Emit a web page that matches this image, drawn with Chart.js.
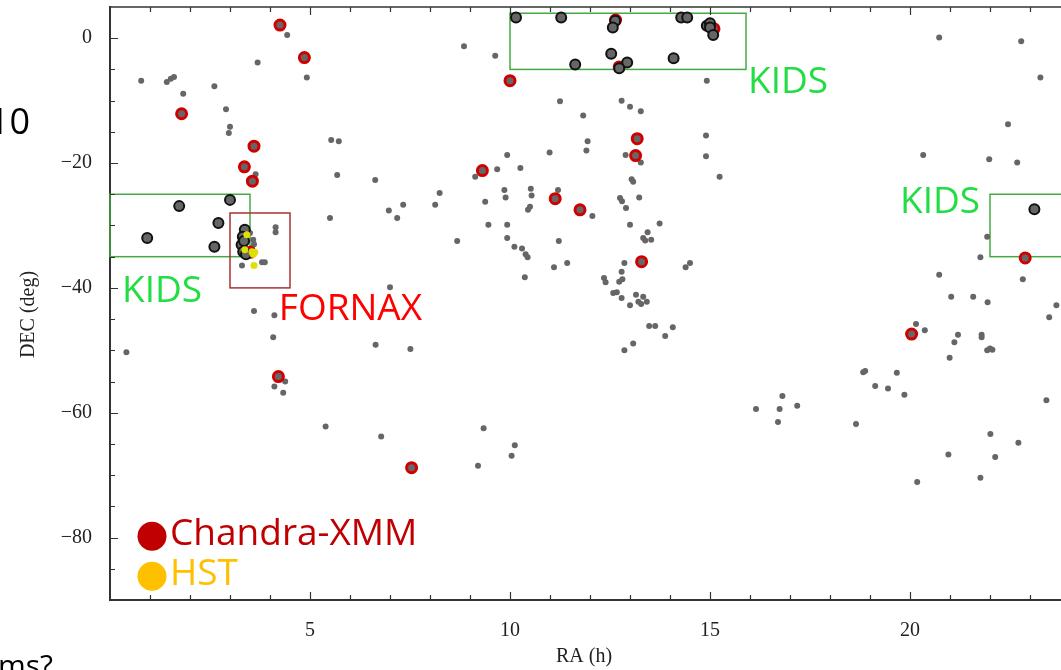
<!DOCTYPE html>
<html>
<head>
<meta charset="utf-8">
<script src="https://cdn.jsdelivr.net/npm/chart.js@4.4.1/dist/chart.umd.min.js"></script>
<style>
  html, body { margin:0; padding:0; background:#fff; overflow:hidden; }
  #wrap { position:relative; width:1061px; height:670px; overflow:hidden; }
  canvas { position:absolute; left:0; top:0; }
</style>
</head>
<body>
<div id="wrap"><canvas id="c" width="1090" height="670"></canvas></div>
<script>
// ---------- tick labels ----------
const RA_TICKS = [5, 10, 15, 20];
const DEC_TICKS = [0, -20, -40, -60, -80];

// ---------- data: [RA (h), DEC (deg)] ----------
const grayPts = [
  [0.78,-6.8],[1.42,-7.0],[1.52,-6.5],[1.6,-6.2],[1.83,-8.9],[2.61,-7.7],[2.9,-11.4],[3.0,-14.2],[2.97,-15.2],
  [3.69,-3.9],[4.43,0.5],[4.92,-6.3],[5.53,-16.3],[5.72,-16.5],[5.68,-21.9],[3.64,-21.8],[5.5,-28.8],
  [4.14,-30.3],[4.14,-31.1],[3.3,-36.4],[3.6,-43.7],[4.11,-44.4],
  [3.58,-32.3],[3.6,-33.0],[3.5,-31.2],[3.55,-33.6],[3.8,-35.9],[3.87,-35.9],
  [8.85,-1.3],[9.63,-2.8],[11.25,-10.1],[11.83,-12.4],[12.79,-10.0],[13.0,-11.0],[13.27,-11.7],[14.92,-6.8],
  [11.94,-16.5],[11.91,-18.0],[10.99,-18.3],[9.93,-18.7],[9.68,-21.0],[10.26,-20.8],[9.13,-22.2],
  [12.89,-18.7],[13.27,-19.9],[14.9,-15.6],[14.9,-18.9],[13.04,-22.6],[13.08,-23.0],[15.24,-22.2],
  [6.63,-22.7],[8.24,-24.8],[8.13,-26.7],[6.97,-27.6],[7.33,-26.7],[7.18,-28.8],
  [9.86,-24.3],[9.89,-25.5],[9.38,-26.2],[10.52,-24.1],[10.54,-25.2],[10.5,-27.0],[10.45,-27.5],[11.2,-24.3],
  [12.75,-25.6],[12.8,-26.1],[13.23,-25.5],[12.9,-27.2],[12.06,-28.5],[13.0,-29.9],[13.74,-29.7],
  [13.44,-31.1],[13.33,-32.0],[13.38,-32.4],[13.53,-32.3],
  [9.46,-29.9],[9.93,-29.9],[9.93,-32.0],[8.68,-32.5],[10.11,-33.4],[10.3,-33.7],[10.39,-34.6],[10.44,-35.1],
  [11.22,-32.5],[11.43,-36.0],[11.1,-36.7],[10.37,-38.3],[12.86,-36.0],[12.79,-37.4],[12.73,-39.0],[12.81,-38.6],
  [12.35,-38.4],[12.39,-39.1],[14.39,-36.7],[14.5,-36.0],[7.0,-39.9],
  [12.58,-40.8],[12.67,-40.7],[12.79,-41.6],[13.0,-42.8],[13.15,-41.1],[13.21,-42.2],[13.28,-42.6],
  [13.33,-41.4],[13.42,-42.2],[13.48,-46.1],[13.63,-46.1],[14.07,-46.3],[13.88,-47.7],[13.08,-48.9],[12.86,-50.0],
  [9.34,-62.5],[10.12,-65.2],[10.04,-66.9],[9.2,-68.5],
  [16.15,-59.4],[16.81,-57.3],[16.74,-59.4],[17.18,-58.9],[16.7,-61.5],
  [20.73,0.1],[22.78,-0.5],[23.26,-6.3],[22.45,-13.8],[20.33,-18.7],[21.98,-19.4],[22.68,-19.9],
  [21.93,-31.8],[21.76,-35.1],[20.73,-37.9],[22.82,-38.6],[21.03,-41.4],[21.58,-41.4],
  [21.94,-42.3],[23.66,-42.8],[23.48,-44.7],[20.15,-45.8],[20.37,-46.8],[21.2,-47.5],[21.11,-48.7],
  [21.79,-47.5],[21.79,-47.9],[21.93,-50.0],[22.0,-49.7],[22.06,-49.9],[20.99,-51.2],
  [18.83,-53.5],[18.88,-53.3],[19.67,-53.6],[19.13,-55.7],[19.45,-56.1],[19.86,-57.1],[23.41,-58.0],
  [18.65,-61.8],[22.01,-63.4],[22.71,-64.8],[20.96,-66.7],[22.13,-67.1],[21.76,-70.4],[20.18,-71.1],
  [4.08,-47.9],[0.41,-50.3],[6.64,-49.1],[7.51,-49.8],[4.38,-55.0],[4.11,-55.8],[4.33,-56.8],
  [5.39,-62.2],[6.78,-63.8]
];
const chandraPts = [
  [4.25,2.1],[4.86,-3.1],[1.79,-12.1],[3.6,-17.3],[3.36,-20.6],[3.56,-22.9],[10.0,-6.8],
  [13.18,-16.1],[13.14,-18.8],[9.31,-21.2],[11.13,-25.7],[11.75,-27.5],[13.29,-35.8],
  [12.64,2.9],[12.73,-4.6],[15.1,1.5],[22.88,-35.2],[20.04,-47.4],[4.21,-54.2],[7.54,-68.8],[3.5,-34.3]
];
const kidsPts = [
  [1.73,-26.9],[3.0,-25.9],[2.71,-29.6],[0.93,-32.0],[2.61,-33.4],
  [3.37,-30.7],[3.32,-31.8],[3.29,-33.1],[3.33,-34.2],[3.4,-34.6],[3.35,-32.5],
  [10.15,3.3],[11.28,3.3],[12.63,2.8],[12.57,1.7],[12.53,-2.5],[11.63,-4.2],[12.93,-3.9],[12.73,-4.8],
  [14.09,-3.2],[14.28,3.3],[14.43,3.3],[14.92,2.0],[15.0,2.4],[15.0,1.7],[15.08,0.5],
  [23.11,-27.4]
];
const hstPts = [[3.42,-31.5],[3.37,-33.9],[3.55,-34.2],[3.58,-34.6],[3.62,-34.3],[3.6,-36.4]];

// ---------- survey regions: [raMin, raMax, decMin, decMax] ----------
const kidsBoxes = [[0, 3.5, -35, -25], [10, 15.9, -5, 4], [22, 24, -35, -25]];
const fornaxBox = [3, 4.5, -40, -28];

// ---------- annotation labels: [text, RA, DEC, colour] ----------
const labels = [
  ['KIDS', 0.3, -42.2, '#22dd44'],
  ['KIDS', 15.95, -8.8, '#22dd44'],
  ['KIDS', 19.75, -28.0, '#22dd44'],
  ['FORNAX', 4.22, -45.1, '#ff0000']
];
const legendItems = [
  ['Chandra-XMM', 1.05, -79.8, '#c00000'],
  ['HST', 1.05, -86.2, '#ffc000']
];

const toXY = a => a.map(p => ({x: p[0], y: p[1]}));

const decoPlugin = {
  id: 'deco',
  beforeDatasetsDraw(chart) {
    const {ctx, scales: {x, y}} = chart;
    ctx.save();
    ctx.lineWidth = 1.5;
    ctx.strokeStyle = '#44aa44';
    kidsBoxes.forEach(b => {
      const x0 = x.getPixelForValue(b[0]), x1 = x.getPixelForValue(b[1]);
      const y0 = y.getPixelForValue(b[3]), y1 = y.getPixelForValue(b[2]);
      ctx.strokeRect(x0, y0, x1 - x0, y1 - y0);
    });
    ctx.strokeStyle = '#a83232';
    {
      const b = fornaxBox;
      const x0 = x.getPixelForValue(b[0]), x1 = x.getPixelForValue(b[1]);
      const y0 = y.getPixelForValue(b[3]), y1 = y.getPixelForValue(b[2]);
      ctx.strokeRect(x0, y0, x1 - x0, y1 - y0);
    }
    ctx.restore();
  },
  afterDraw(chart) {
    const {ctx, chartArea: {left, right, top, bottom}, scales: {x, y}} = chart;
    ctx.save();
    // frame top line + inward ticks
    ctx.strokeStyle = '#333';
    ctx.lineWidth = 1.5;
    ctx.beginPath(); ctx.moveTo(left - 1, top); ctx.lineTo(right, top); ctx.stroke();
    ctx.lineWidth = 1.2;
    ctx.beginPath();
    for (let h = 1; h < 24; h++) {
      const px = Math.round(x.getPixelForValue(h)) + 0.5;
      const L = h % 5 === 0 ? 8 : 5;
      ctx.moveTo(px, bottom); ctx.lineTo(px, bottom - L);
      ctx.moveTo(px, top); ctx.lineTo(px, top + L);
    }
    for (let d = 0; d >= -85; d -= 5) {
      const py = Math.round(y.getPixelForValue(d)) + 0.5;
      const L = d % 20 === 0 ? 8 : 5;
      ctx.moveTo(left, py); ctx.lineTo(left + L, py);
    }
    ctx.stroke();

    // axis titles
    ctx.fillStyle = '#222';
    ctx.font = '20px "Liberation Serif"';
    ctx.textAlign = 'center'; ctx.textBaseline = 'middle';
    ctx.fillText('RA (h)', (left + right) / 2 - 6, 657);
    ctx.save();
    ctx.translate(29, (top + bottom) / 2 + 11);
    ctx.rotate(-Math.PI / 2);
    ctx.fillText('DEC (deg)', 0, 0);
    ctx.restore();

    // annotation labels
    ctx.font = '37px "Open Sans"';
    ctx.textAlign = 'left'; ctx.textBaseline = 'alphabetic';
    labels.forEach(l => {
      ctx.fillStyle = l[3];
      ctx.fillText(l[0], x.getPixelForValue(l[1]), y.getPixelForValue(l[2]));
    });
    // legend
    legendItems.forEach(l => {
      const cx = x.getPixelForValue(l[1]), cy = y.getPixelForValue(l[2]);
      ctx.fillStyle = l[3];
      ctx.beginPath(); ctx.arc(cx, cy, 14.5, 0, Math.PI * 2); ctx.fill();
      ctx.textBaseline = 'middle';
      ctx.fillText(l[0], cx + 18, cy - 2);
    });

    // cropped fragments from the source slide
    ctx.fillStyle = '#000';
    ctx.font = '36px "Open Sans"';
    ctx.textAlign = 'right'; ctx.textBaseline = 'alphabetic';
    ctx.fillText('10', 30, 134);
    ctx.textAlign = 'left'; ctx.textBaseline = 'top';
    ctx.font = '30px "Open Sans"';
    ctx.fillText('ms?', -2, 652);
    ctx.restore();
  }
};

new Chart(document.getElementById('c'), {
  type: 'scatter',
  data: {
    datasets: [
      { label: 'HST', data: toXY(hstPts), order: 0, pointRadius: 3.5, pointBackgroundColor: '#dde000', pointBorderWidth: 0 },
      { label: 'KIDS', data: toXY(kidsPts), order: 1, pointRadius: 5, pointBackgroundColor: '#666', pointBorderColor: '#111', pointBorderWidth: 2 },
      { label: 'Chandra-XMM', data: toXY(chandraPts), order: 2, pointRadius: 5, pointBackgroundColor: '#666', pointBorderColor: '#d00000', pointBorderWidth: 3 },
      { label: 'other', data: toXY(grayPts), order: 3, pointRadius: 3, pointBackgroundColor: '#666', pointBorderWidth: 0 }
    ]
  },
  options: {
    responsive: false,
    animation: false,
    devicePixelRatio: 1,
    layout: { autoPadding: false, padding: { top: 7, left: 0, right: 20, bottom: 0 } },
    plugins: { legend: { display: false }, tooltip: { enabled: false } },
    scales: {
      x: {
        type: 'linear', position: 'bottom', min: 0, max: 24,
        afterFit: s => { s.height = 70; s.paddingLeft = 0; s.paddingRight = 0; },
        afterBuildTicks: s => { s.ticks = RA_TICKS.map(v => ({value: v})); },
        grid: { display: false, drawTicks: false },
        border: { display: true, color: '#333', width: 2 },
        ticks: { padding: 19, color: '#222', font: { family: 'Liberation Serif', size: 20 }, maxRotation: 0, autoSkip: false }
      },
      y: {
        type: 'linear', position: 'left', min: -90, max: 5,
        afterFit: s => { s.width = 110; s.paddingTop = 0; s.paddingBottom = 0; },
        afterBuildTicks: s => { s.ticks = DEC_TICKS.map(v => ({value: v})); },
        grid: { display: false, drawTicks: false },
        border: { display: true, color: '#333', width: 2 },
        ticks: { padding: 18, color: '#222', font: { family: 'Liberation Serif', size: 20 }, autoSkip: false,
                 callback: v => String(v).replace('-', '\u2212') }
      }
    }
  },
  plugins: [decoPlugin]
});
</script>
</body>
</html>
